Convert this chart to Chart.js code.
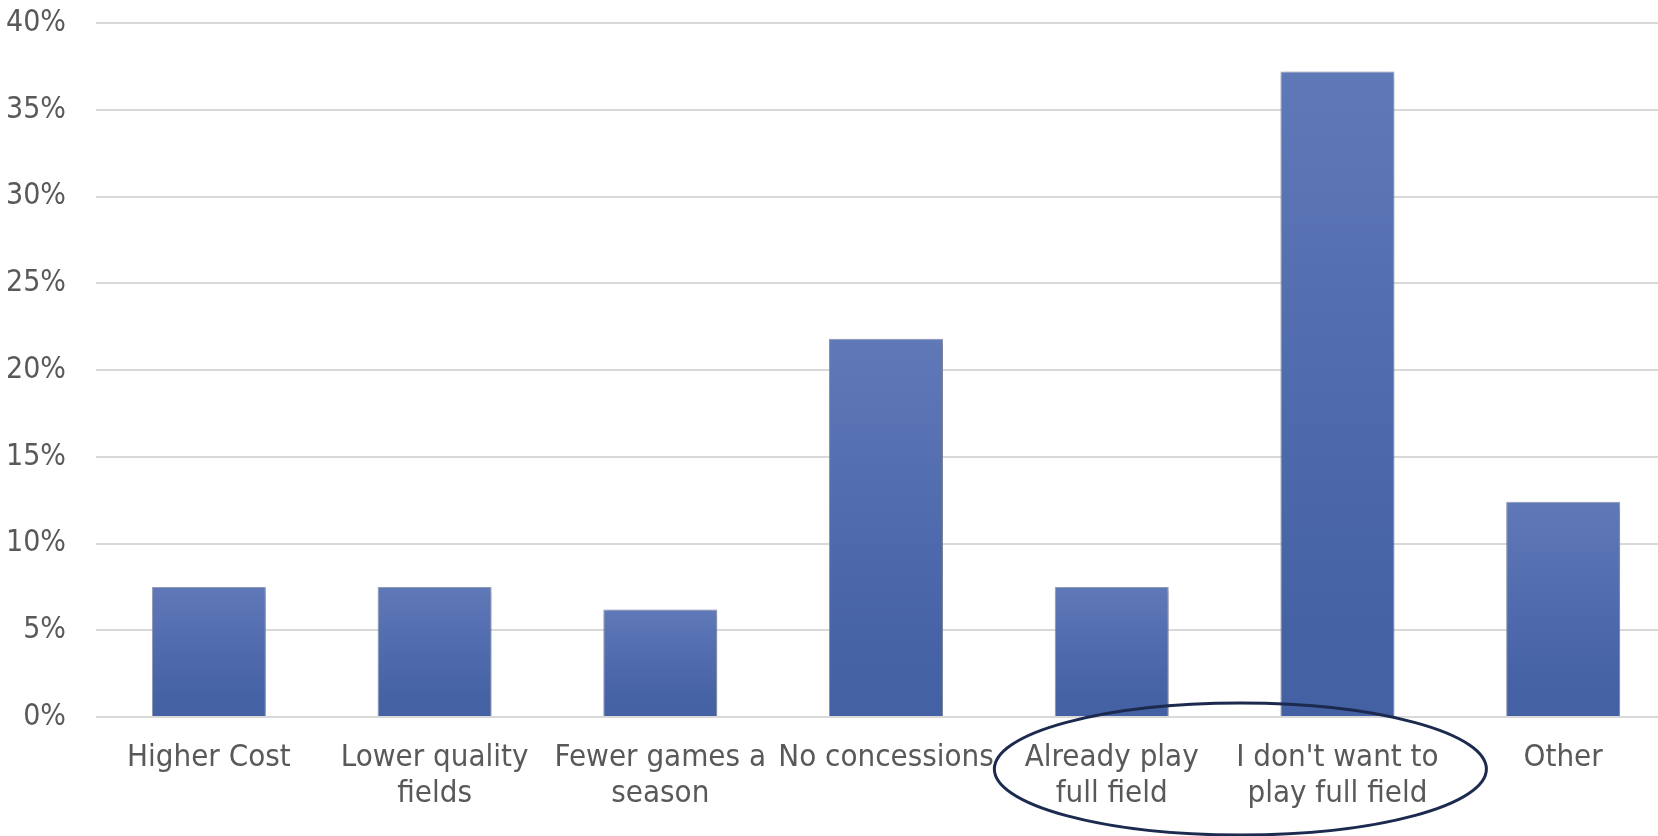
<!DOCTYPE html>
<html>
<head>
<meta charset="utf-8">
<script src="https://cdn.jsdelivr.net/npm/chart.js@4"></script>
<style>
  html, body { margin: 0; padding: 0; background: #ffffff; overflow: hidden; }
  #wrap { position: relative; width: 1676px; height: 836px; }
</style>
</head>
<body>
<div id="wrap"><canvas id="c"></canvas></div>
<script>
const categories = [
  "Higher Cost",
  ["Lower quality", "fields"],
  ["Fewer games a", "season"],
  "No concessions",
  ["Already play", "full field"],
  ["I don't want to", "play full field"],
  "Other"
];
const values = [7.5, 7.5, 6.2, 21.8, 7.5, 37.2, 12.4];
const yTicksMax = 40;
const yTickStep = 5;
const highlighted = [4, 5];

const FONT = "'DejaVu Sans Condensed', 'Liberation Sans', sans-serif";

const shadowPlugin = {
  id: 'barShadow',
  beforeDatasetDraw(chart) {
    const ctx = chart.ctx;
    ctx.save();
    ctx.shadowColor = 'rgba(0,0,0,0.28)';
    ctx.shadowBlur = 7;
    ctx.shadowOffsetX = 2;
    ctx.shadowOffsetY = 2;
  },
  afterDatasetDraw(chart) {
    chart.ctx.restore();
  }
};

const ellipsePlugin = {
  id: 'ellipse',
  afterDraw(chart) {
    const xs = chart.scales.x;
    const area = chart.chartArea;
    const a = xs.getPixelForValue(highlighted[0]);
    const b = xs.getPixelForValue(highlighted[1]);
    const step = b - a;
    const cx = (a + b) / 2 + step * 0.07;
    const rx = step * 1.09;
    const cy = area.bottom + 52;
    const ry = 66;
    const ctx = chart.ctx;
    ctx.save();
    ctx.beginPath();
    ctx.ellipse(cx, cy, rx, ry, 0, 0, Math.PI * 2);
    ctx.lineWidth = 3;
    ctx.strokeStyle = '#1b2a4e';
    ctx.stroke();
    ctx.restore();
  }
};

function barGradient(context) {
  const chart = context.chart;
  const ys = chart.scales && chart.scales.y;
  const v = values[context.dataIndex];
  if (!ys || v === undefined) return '#5068ac';
  const top = ys.getPixelForValue(v);
  const bottom = ys.getPixelForValue(0);
  if (!isFinite(top) || !isFinite(bottom) || top === bottom) return '#5068ac';
  const g = chart.ctx.createLinearGradient(0, top, 0, bottom);
  g.addColorStop(0, '#5f78b8');
  g.addColorStop(0.85, '#4562a5');
  g.addColorStop(1, '#4461a4');
  return g;
}

new Chart(document.getElementById('c'), {
  type: 'bar',
  data: {
    labels: categories,
    datasets: [{
      data: values,
      backgroundColor: barGradient,
      borderColor: 'rgba(140,150,175,0.9)',
      borderWidth: 1,
      barPercentage: 0.505,
      categoryPercentage: 1.0
    }]
  },
  options: {
    responsive: true,
    maintainAspectRatio: false,
    animation: false,
    layout: { padding: { top: 23, right: 0, left: 0, bottom: 0 } },
    plugins: {
      legend: { display: false },
      tooltip: { enabled: false }
    },
    scales: {
      x: {
        grid: { display: false, drawTicks: false },
        border: { display: false },
        ticks: {
          color: '#595959',
          font: { family: FONT, size: 31, lineHeight: 1.16 },
          padding: 23,
          maxRotation: 0,
          autoSkip: false
        },
        afterFit(scale) { scale.height = 119; }
      },
      y: {
        min: 0,
        max: yTicksMax,
        grid: { color: '#d9d9d9', lineWidth: 2, drawTicks: false },
        border: { display: false },
        ticks: {
          stepSize: yTickStep,
          color: '#595959',
          font: { family: FONT, size: 30 },
          padding: 30,
          callback: v => v + '%'
        },
        afterFit(scale) { scale.width = 96; scale.paddingTop = 0; }
      }
    }
  },
  plugins: [shadowPlugin, ellipsePlugin]
});
</script>
</body>
</html>
